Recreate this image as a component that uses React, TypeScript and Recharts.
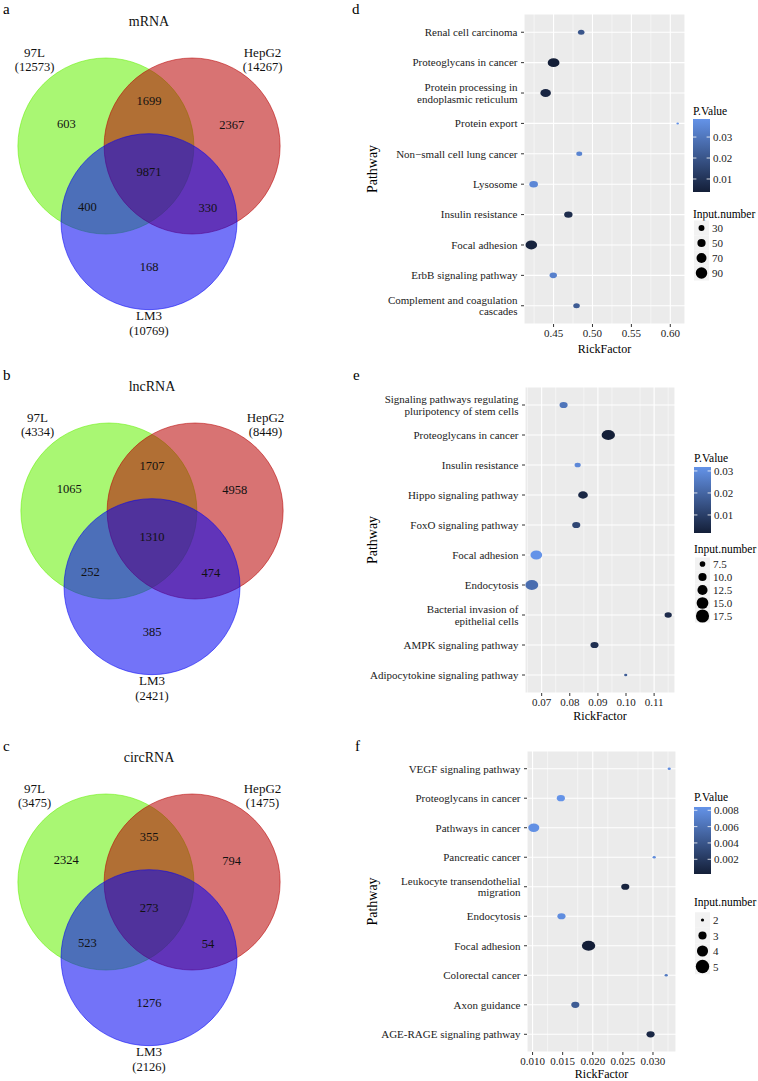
import React from 'react';
import { ScatterChart, Scatter, XAxis, YAxis, ZAxis, CartesianGrid } from 'recharts';

const FONT = '"Liberation Serif", "Times New Roman", serif';

// ---------- Venn diagrams (a, b, c) ----------
const vennSets = ['97L', 'HepG2', 'LM3'];
const mrnaTotals = [12573, 14267, 10769];
const lncTotals = [4334, 8449, 2421];
const circTotals = [3475, 1475, 2126];
// region order: 97L only, 97L&HepG2, HepG2 only, all three, 97L&LM3, HepG2&LM3, LM3 only
const mrnaRegions = [603, 1699, 2367, 9871, 400, 330, 168];
const lncRegions = [1065, 1707, 4958, 1310, 252, 474, 385];
const circRegions = [2324, 355, 794, 273, 523, 54, 1276];

// ---------- KEGG bubble charts (d, e, f) ----------
const dPathways = [
  'Renal cell carcinoma',
  'Proteoglycans in cancer',
  'Protein processing in\nendoplasmic reticulum',
  'Protein export',
  'Non\u2212small cell lung cancer',
  'Lysosome',
  'Insulin resistance',
  'Focal adhesion',
  'ErbB signaling pathway',
  'Complement and coagulation\ncascades',
];
const dRichFactor = [0.4855, 0.45, 0.4398, 0.6095, 0.483, 0.4244, 0.469, 0.4214, 0.4496, 0.4795];
const dPValue = [0.02, 0.0038, 0.006, 0.0386, 0.034, 0.035, 0.008, 0.005, 0.033, 0.022];
const dInput = [35, 95, 78, 12, 30, 54, 52, 92, 42, 35];
const dTicks = [0.45, 0.5, 0.55, 0.6];
const dMinorTicks = [0.425, 0.475, 0.525, 0.575];
const dPBreaks = [0.01, 0.02, 0.03];
const dSizeBreaks = [30, 50, 70, 90];

const ePathways = [
  'Signaling pathways regulating\npluripotency of stem cells',
  'Proteoglycans in cancer',
  'Insulin resistance',
  'Hippo signaling pathway',
  'FoxO signaling pathway',
  'Focal adhesion',
  'Endocytosis',
  'Bacterial invasion of\nepithelial cells',
  'AMPK signaling pathway',
  'Adipocytokine signaling pathway',
];
const eRichFactor = [0.0778, 0.0937, 0.0828, 0.0847, 0.0823, 0.0681, 0.0665, 0.115, 0.0888, 0.0999];
const ePValue = [0.024, 0.0018, 0.029, 0.004, 0.012, 0.0318, 0.022, 0.005, 0.006, 0.018];
const eInput = [10, 18, 8, 12, 10, 15, 17, 9, 10, 6];
const eTicks = [0.07, 0.08, 0.09, 0.1, 0.11];
const eMinorTicks = [0.065, 0.075, 0.085, 0.095, 0.105, 0.115];
const ePBreaks = [0.01, 0.02, 0.03];
const eSizeBreaks = [7.5, 10, 12.5, 15, 17.5];

const fPathways = [
  'VEGF signaling pathway',
  'Proteoglycans in cancer',
  'Pathways in cancer',
  'Pancreatic cancer',
  'Leukocyte transendothelial\nmigration',
  'Endocytosis',
  'Focal adhesion',
  'Colorectal cancer',
  'Axon guidance',
  'AGE-RAGE signaling pathway',
];
const fRichFactor = [0.0327, 0.0147, 0.0102, 0.0302, 0.0254, 0.0148, 0.0193, 0.0322, 0.0171, 0.0296];
const fPValue = [0.008, 0.0084, 0.0082, 0.0078, 0.0005, 0.008, 0.0002, 0.0066, 0.0045, 0.0008];
const fInput = [2, 3, 4, 2, 3, 3, 5, 2, 3, 3];
const fTicks = [0.01, 0.015, 0.02, 0.025, 0.03];
const fMinorTicks = [0.0125, 0.0175, 0.0225, 0.0275, 0.0325];
const fPBreaks = [0.002, 0.004, 0.006, 0.008];
const fSizeBreaks = [2, 3, 4, 5];

// ---------- Venn layout (units of circle radius) ----------
const VENN_W = 360;
const VENN_H = 360;
const VENN_R = 88;
const VENN_ORIGIN = { x: 149, y: 146 };
const circleSpots = [[-0.49, 0], [0.49, 0], [0, -0.86]];
const regionSpots = [[-0.94, 0.25], [0, 0.51], [0.94, 0.24], [0, -0.3], [-0.7, -0.69], [0.67, -0.7], [0, -1.38]];
const nameSpots = [[-1.3, 1.06], [1.29, 1.06], [0, -1.93]];
const totalSpots = [[-1.3, 0.9], [1.29, 0.9], [0, -2.1]];
const vennColors: Record<string, string> = { '97L': '#62F000', HepG2: '#B80000', LM3: '#0000F2' };

const VennCircle = (props: any) => {
  const { cx, cy, width, payload } = props;
  const c = vennColors[payload.name];
  return (
    <circle cx={cx} cy={cy} r={width / 2} fill={c} fillOpacity={0.55} stroke={c} strokeOpacity={0.6} strokeWidth={0.9} />
  );
};

const textShape = (size: number) => (props: any) => (
  <text
    x={props.cx}
    y={props.cy}
    textAnchor="middle"
    dominantBaseline="central"
    fontSize={size}
    fontFamily={FONT}
    fill="#111"
  >
    {props.payload.text}
  </text>
);

function Venn({ title, totals, regions }: { title: string; totals: number[]; regions: number[] }) {
  const xDomain = [-VENN_ORIGIN.x / VENN_R, (VENN_W - VENN_ORIGIN.x) / VENN_R];
  const yDomain = [-(VENN_H - VENN_ORIGIN.y) / VENN_R, VENN_ORIGIN.y / VENN_R];
  const circles = vennSets.map((name, i) => ({ name, x: circleSpots[i][0], y: circleSpots[i][1], z: 1 }));
  const counts = regions.map((v, i) => ({ x: regionSpots[i][0], y: regionSpots[i][1], z: 0, text: String(v) }));
  const names = vennSets.map((n, i) => ({ x: nameSpots[i][0], y: nameSpots[i][1], z: 0, text: n }));
  const tots = totals.map((t, i) => ({ x: totalSpots[i][0], y: totalSpots[i][1], z: 0, text: `(${t})` }));
  const head = [{ x: 0, y: 1.41, z: 0, text: title }];
  return (
    <ScatterChart width={VENN_W} height={VENN_H} margin={{ top: 0, right: 0, bottom: 0, left: 0 }}>
      <XAxis type="number" dataKey="x" domain={xDomain} hide allowDataOverflow />
      <YAxis type="number" dataKey="y" domain={yDomain} hide allowDataOverflow />
      <ZAxis type="number" dataKey="z" domain={[0, 1]} range={[0, Math.PI * VENN_R * VENN_R]} />
      <Scatter data={circles} shape={VennCircle} isAnimationActive={false} />
      <Scatter data={counts} shape={textShape(12.5)} isAnimationActive={false} />
      <Scatter data={names} shape={textShape(13)} isAnimationActive={false} />
      <Scatter data={tots} shape={textShape(12.5)} isAnimationActive={false} />
      <Scatter data={head} shape={textShape(14)} isAnimationActive={false} />
    </ScatterChart>
  );
}

const vennPanels = [
  { id: 'a', title: 'mRNA', totals: mrnaTotals, regions: mrnaRegions, left: 0, top: 0 },
  { id: 'b', title: 'lncRNA', totals: lncTotals, regions: lncRegions, left: 3, top: 365 },
  { id: 'c', title: 'circRNA', totals: circTotals, regions: circRegions, left: 0, top: 736 },
];

// ---------- bubble charts ----------
const LOW = [20, 31, 56];
const HIGH = [100, 147, 232];
const mix = (t: number) => {
  const k = Math.max(0, Math.min(1, t));
  const c = LOW.map((l, i) => Math.round(l + (HIGH[i] - l) * k));
  return `rgb(${c[0]},${c[1]},${c[2]})`;
};

const BUBBLE_W = 398;
const Y_WIDTH = 150;

const PathwayTick = (props: any) => {
  const { x, y, payload, labels } = props;
  const lines = String(labels[payload.value] ?? '').split('\n');
  const lh = 11.5;
  return (
    <text x={x} y={y} textAnchor="end" fontSize={11} fill="#222" fontFamily={FONT}>
      {lines.map((ln: string, i: number) => (
        <tspan key={i} x={x} y={y + (i - (lines.length - 1) / 2) * lh} dy="0.35em">
          {ln}
        </tspan>
      ))}
    </text>
  );
};

const bubblePanels = [
  {
    id: 'd', top: 0, height: 360, margin: { top: 14, right: 73, bottom: 6, left: 14 }, xHeight: 30, titleGap: 25,
    pathways: dPathways, rich: dRichFactor, p: dPValue, input: dInput, ticks: dTicks, minor: dMinorTicks,
    digits: 2, pBreaks: dPBreaks, pDigits: 2, sizeBreaks: dSizeBreaks, sizeDigits: 0, rRange: [1.3, 5.9],
    legend: { x: 333, pTitle: 111, barTop: 119, barH: 73, sTitle: 214, key0: 228, step: 15 },
  },
  {
    id: 'e', top: 360, height: 368, margin: { top: 27, right: 83, bottom: 8, left: 15 }, xHeight: 27, titleGap: 23,
    pathways: ePathways, rich: eRichFactor, p: ePValue, input: eInput, ticks: eTicks, minor: eMinorTicks,
    digits: 2, pBreaks: ePBreaks, pDigits: 2, sizeBreaks: eSizeBreaks, sizeDigits: 1, rRange: [1.6, 6.7],
    legend: { x: 334, pTitle: 98, barTop: 107, barH: 66, sTitle: 189, key0: 204, step: 13 },
  },
  {
    id: 'f', top: 720, height: 361, margin: { top: 31, right: 82, bottom: 2, left: 17 }, xHeight: 27, titleGap: 21.5,
    pathways: fPathways, rich: fRichFactor, p: fPValue, input: fInput, ticks: fTicks, minor: fMinorTicks,
    digits: 3, pBreaks: fPBreaks, pDigits: 3, sizeBreaks: fSizeBreaks, sizeDigits: 0, rRange: [1.6, 6.7],
    legend: { x: 334, pTitle: 77, barTop: 87, barH: 67, sTitle: 182, key0: 200, step: 15.5 },
  },
];

function BubblePanel({ cfg }: { cfg: any }) {
  const rows = cfg.pathways.map((name: string, i: number) => ({
    rank: i, pathway: name, rich: cfg.rich[i], p: cfg.p[i], count: cfg.input[i],
  }));
  const xMin = Math.min(...cfg.rich);
  const xMax = Math.max(...cfg.rich);
  const pad = (xMax - xMin) * 0.05;
  const x0 = xMin - pad;
  const x1 = xMax + pad;
  const pMin = Math.min(...cfg.p);
  const pMax = Math.max(...cfg.p);
  const nMin = Math.min(...cfg.input);
  const nMax = Math.max(...cfg.input);
  const aLo = Math.PI * cfg.rRange[0] ** 2;
  const aHi = Math.PI * cfg.rRange[1] ** 2;
  const color = (p: number) => mix((p - pMin) / (pMax - pMin));
  const keyRadius = (v: number) => Math.sqrt((aLo + (aHi - aLo) * (v - nMin) / (nMax - nMin)) / Math.PI);

  const plotTop = cfg.margin.top;
  const plotBottom = cfg.height - cfg.margin.bottom - cfg.xHeight;
  const plotLeft = cfg.margin.left + Y_WIDTH;
  const plotRight = BUBBLE_W - cfg.margin.right;
  const n = cfg.pathways.length;

  const Bubble = (props: any) => {
    const { cx, cy, width, payload } = props;
    const r = width / 2;
    return <ellipse cx={cx} cy={cy} rx={r} ry={r * 0.76} fill={color(payload.p)} />;
  };

  const lg = cfg.legend;
  const barW = 17;
  const gradId = `grad-${cfg.id}`;
  const pY = (v: number) => lg.barTop + ((pMax - v) / (pMax - pMin)) * lg.barH;

  return (
    <div style={{ position: 'absolute', left: 360, top: cfg.top, width: BUBBLE_W, height: cfg.height }}>
      <ScatterChart width={BUBBLE_W} height={cfg.height} margin={cfg.margin}>
        <CartesianGrid fill="#EBEBEB" stroke="#FFFFFF" strokeWidth={1.1} />
        <CartesianGrid
          horizontal={false}
          stroke="#FFFFFF"
          strokeWidth={0.5}
          verticalCoordinatesGenerator={(gp: any) => {
            const s = gp?.xAxis?.scale;
            return cfg.minor.map((v: number) =>
              typeof s === 'function' ? s(v) : plotLeft + ((v - x0) / (x1 - x0)) * (plotRight - plotLeft)
            );
          }}
        />
        <XAxis
          type="number"
          dataKey="rich"
          domain={[x0, x1]}
          allowDataOverflow
          ticks={cfg.ticks}
          tickFormatter={(v: number) => v.toFixed(cfg.digits)}
          axisLine={false}
          tickLine={{ stroke: '#333' }}
          tickSize={3}
          tickMargin={2}
          height={cfg.xHeight}
          tick={{ fontSize: 11, fill: '#222', fontFamily: FONT }}
          label={() => (
            <text
              x={(plotLeft + plotRight) / 2}
              y={plotBottom + cfg.titleGap}
              textAnchor="middle"
              dominantBaseline="central"
              fontSize={12}
              fontFamily={FONT}
              fill="#000"
            >
              RickFactor
            </text>
          )}
        />
        <YAxis
          type="number"
          dataKey="rank"
          domain={[-0.6, n - 1 + 0.6]}
          allowDataOverflow
          reversed
          ticks={cfg.pathways.map((_: string, i: number) => i)}
          interval={0}
          width={Y_WIDTH}
          axisLine={false}
          tickLine={{ stroke: '#333' }}
          tickSize={3}
          tickMargin={3.5}
          tick={<PathwayTick labels={cfg.pathways} />}
          label={() => (
            <text
              x={12}
              y={(plotTop + plotBottom) / 2}
              transform={`rotate(-90, 12, ${(plotTop + plotBottom) / 2})`}
              textAnchor="middle"
              dominantBaseline="central"
              fontSize={14}
              fontFamily={FONT}
              fill="#000"
            >
              Pathway
            </text>
          )}
        />
        <ZAxis type="number" dataKey="count" domain={[nMin, nMax]} range={[aLo, aHi]} />
        <Scatter data={rows} shape={Bubble} isAnimationActive={false} />
      </ScatterChart>
      <svg
        width={BUBBLE_W}
        height={cfg.height}
        style={{ position: 'absolute', left: 0, top: 0, pointerEvents: 'none' }}
        fontFamily={FONT}
      >
        <defs>
          <linearGradient id={gradId} x1="0" y1="0" x2="0" y2="1">
            <stop offset="0%" stopColor={mix(1)} />
            <stop offset="100%" stopColor={mix(0)} />
          </linearGradient>
        </defs>
        <text x={lg.x} y={lg.pTitle} dominantBaseline="central" fontSize={11.5} fill="#000">
          P.Value
        </text>
        <rect x={lg.x} y={lg.barTop} width={barW} height={lg.barH} fill={`url(#${gradId})`} />
        {cfg.pBreaks.map((b: number) => (
          <g key={b}>
            <line x1={lg.x} x2={lg.x + barW / 5} y1={pY(b)} y2={pY(b)} stroke="#fff" strokeWidth={0.8} />
            <line x1={lg.x + barW - barW / 5} x2={lg.x + barW} y1={pY(b)} y2={pY(b)} stroke="#fff" strokeWidth={0.8} />
            <text x={lg.x + barW + 3} y={pY(b)} dominantBaseline="central" fontSize={11} fill="#222">
              {b.toFixed(cfg.pDigits)}
            </text>
          </g>
        ))}
        <text x={lg.x} y={lg.sTitle} dominantBaseline="central" fontSize={11.5} fill="#000">
          Input.number
        </text>
        {cfg.sizeBreaks.map((b: number, i: number) => {
          const cy = lg.key0 + i * lg.step;
          return (
            <g key={b}>
              <rect x={lg.x + 1} y={cy - lg.step / 2} width={15} height={lg.step} fill="#F2F2F2" />
              <circle cx={lg.x + 8.5} cy={cy} r={keyRadius(b)} fill="#000" />
              <text x={lg.x + 19} y={cy} dominantBaseline="central" fontSize={11} fill="#222">
                {b.toFixed(cfg.sizeDigits)}
              </text>
            </g>
          );
        })}
      </svg>
    </div>
  );
}

const panelLetters = [
  { t: 'a', x: 3, y: 14 },
  { t: 'b', x: 3, y: 380 },
  { t: 'c', x: 3, y: 751 },
  { t: 'd', x: 352, y: 14 },
  { t: 'e', x: 353, y: 380 },
  { t: 'f', x: 355, y: 751 },
];

export default function App() {
  return (
    <div
      style={{
        position: 'absolute', left: 0, top: 0, width: 758, height: 1081,
        background: '#fff', overflow: 'hidden', fontFamily: FONT,
      }}
    >
      {vennPanels.map((v) => (
        <div key={v.id} style={{ position: 'absolute', left: v.left, top: v.top, width: VENN_W, height: VENN_H }}>
          <Venn title={v.title} totals={v.totals} regions={v.regions} />
        </div>
      ))}
      {bubblePanels.map((cfg) => (
        <BubblePanel key={cfg.id} cfg={cfg} />
      ))}
      <svg width={758} height={1081} style={{ position: 'absolute', left: 0, top: 0, pointerEvents: 'none' }}>
        {panelLetters.map((l) => (
          <text key={l.t} x={l.x} y={l.y} fontSize={15} fontFamily={FONT} fill="#000">
            {l.t}
          </text>
        ))}
      </svg>
    </div>
  );
}
